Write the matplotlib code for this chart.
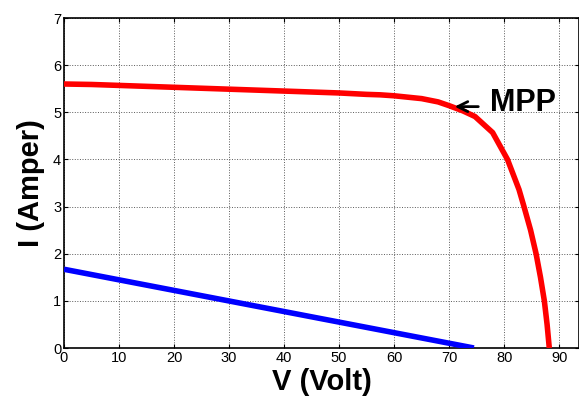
import matplotlib
matplotlib.use("Agg")
import matplotlib.pyplot as plt

plt.rcParams['font.family'] = ['Liberation Sans', 'DejaVu Sans']

# I-V curve (red)
v_red = [0, 5, 10, 15, 20, 25, 30, 35, 40, 45, 50, 55, 57.5, 60, 65, 68, 70, 72.5, 74.7, 77.9, 80.6, 82.7, 83.6, 84.8, 85.8, 86.6, 87.3, 87.8, 88.2]
i_red = [5.6, 5.59, 5.57, 5.55, 5.53, 5.51, 5.49, 5.47, 5.45, 5.43, 5.41, 5.38, 5.37, 5.35, 5.29, 5.22, 5.14, 5.03, 4.91, 4.57, 4.0, 3.36, 3.0, 2.5, 2.0, 1.5, 1.0, 0.5, 0.0]

# Load line (blue)
v_blue = [0, 74.5]
i_blue = [1.67, 0.0]

mpp_v, mpp_i = 70.5, 5.12

xticks = [0, 10, 20, 30, 40, 50, 60, 70, 80, 90]
yticks = [0, 1, 2, 3, 4, 5, 6, 7]

fig = plt.figure(figsize=(5.79, 3.97), dpi=100)
ax = fig.add_axes([64/579, 1-348/397, 1-64/579, (348-18)/397])

ax.plot(v_red, i_red, color='#ff0000', lw=4, solid_capstyle='butt', solid_joinstyle='round', zorder=3)
ax.plot(v_blue, i_blue, color='#0000ff', lw=4, solid_capstyle='butt', zorder=3)

ax.set_xlim(0, 93.6)
ax.set_ylim(0, 7)
ax.set_xticks(xticks)
ax.set_yticks(yticks)
ax.tick_params(direction='in', length=3, labelsize=10.5, pad=2, top=True, right=True, width=0.8)
ax.grid(True, color='0.35', linestyle=':', linewidth=0.7)
for s in ax.spines.values():
    s.set_linewidth(1.2)

ax.set_xlabel('V (Volt)', fontsize=21, fontweight='bold', labelpad=2)
ax.set_ylabel('I (Amper)', fontsize=21, fontweight='bold', labelpad=6)

ax.annotate('', xy=(mpp_v, mpp_i), xytext=(75.8, mpp_i),
            arrowprops=dict(arrowstyle='->', color='black', lw=2, mutation_scale=18))
ax.text(77.5, mpp_i + 0.08, 'MPP', fontsize=22, fontweight='bold', va='center', ha='left')

fig.savefig('out.png', dpi=100)
